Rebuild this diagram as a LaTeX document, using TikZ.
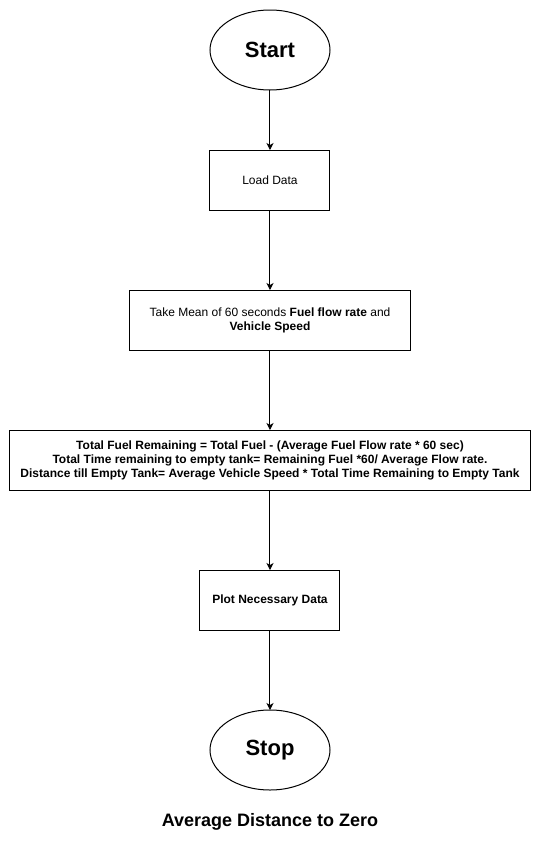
\documentclass[tikz,border=0pt]{standalone}
\usepackage{fontspec}
\setmainfont{Liberation Sans}
\usetikzlibrary{shapes.geometric, arrows.meta, positioning}

\begin{document}
\begin{tikzpicture}[
    terminal/.style={ellipse, draw, minimum width=120pt, minimum height=80pt, inner sep=0pt, outer sep=0pt, font=\fontsize{22}{26}\selectfont\bfseries},
    process/.style={rectangle, draw, minimum height=60pt, outer sep=0pt, align=center, font=\fontsize{12}{14}\selectfont},
    arrow/.style={-{Stealth[length=7pt,width=7pt,inset=2pt]}},
    line width=1pt,
    node distance=80pt
]
    \useasboundingbox (-270pt,50pt) rectangle (271pt,-791pt);

    % Terminals and steps
    \node[terminal] (start) at (0,0) {Start};
    \node[process, minimum width=120pt, below=60pt of start] (load) {Load Data};
    \node[process, minimum width=280pt, below=of load] (mean) {Take Mean of 60 seconds \textbf{Fuel flow rate} and\\ \textbf{Vehicle Speed}};
    \node[process, minimum width=520pt, below=of mean, font=\fontsize{12}{14}\selectfont\bfseries] (calc) {
        Total Fuel Remaining = Total Fuel - (Average Fuel Flow rate * 60 sec)\\
        Total Time remaining to empty tank= Remaining Fuel *60/ Average Flow rate.\\
        Distance till Empty Tank= Average Vehicle Speed * Total Time Remaining to Empty Tank
    };
    \node[process, minimum width=140pt, below=of calc, font=\fontsize{12}{14}\selectfont\bfseries] (plot) {Plot Necessary Data};
    \node[terminal, below=of plot] (stop) {Stop};

    % Caption
    \node[below=20pt of stop, font=\fontsize{18}{22}\selectfont\bfseries] (caption) {Average Distance to Zero};

    % Flow
    \draw[arrow] (start) -- (load);
    \draw[arrow] (load) -- (mean);
    \draw[arrow] (mean) -- (calc);
    \draw[arrow] (calc) -- (plot);
    \draw[arrow] (plot) -- (stop);

\end{tikzpicture}
\end{document}
